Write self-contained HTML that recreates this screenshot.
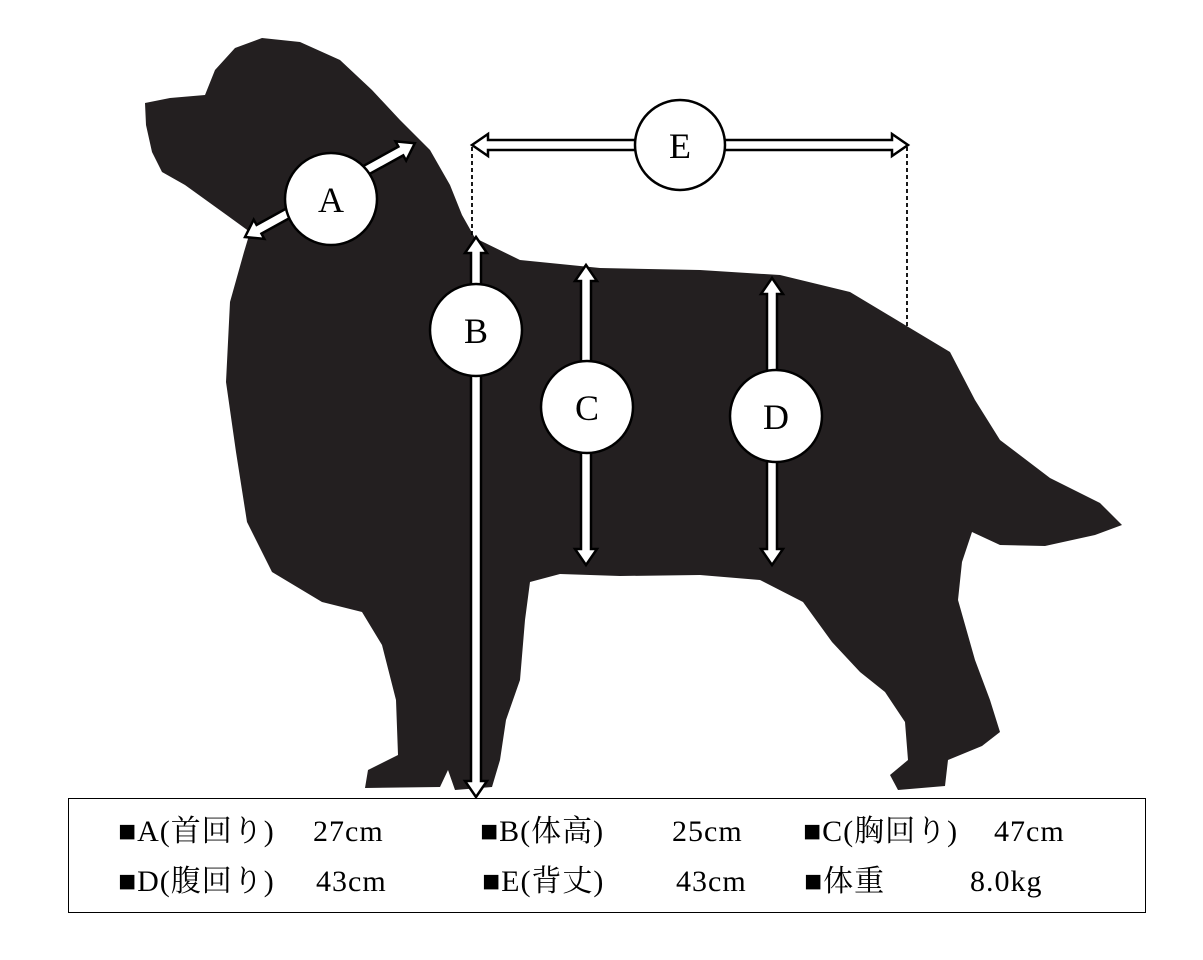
<!DOCTYPE html>
<html><head><meta charset="utf-8"><style>
body{margin:0;width:1203px;height:960px;background:#fff;position:relative;overflow:hidden;font-family:"Liberation Serif","Noto Serif CJK SC",serif;}
.t{position:absolute;font-size:30px;line-height:30px;color:#000;white-space:nowrap;letter-spacing:1px;}
.box{position:absolute;left:68px;top:798px;width:1076px;height:113px;border:1.5px solid #000;}
</style></head><body>
<svg width="1203" height="960" style="position:absolute;left:0;top:0">
<path fill="#231f20" d="M145,103 L170,98 L205,95 L215,70 L235,48 L262,38 L300,42 L340,60 L372,90 L400,120 L430,150 L450,185 L462,215 L475,238 L520,260 L600,268 L700,270 L780,275 L850,292 L905,325 L950,352 L975,400 L1000,440 L1050,478 L1100,503 L1122,525 L1095,535 L1045,546 L1000,545 L972,532 L962,562 L958,600 L975,660 L990,700 L1000,732 L982,746 L948,760 L945,786 L898,790 L890,775 L908,760 L905,722 L885,692 L860,672 L832,642 L803,602 L760,580 L700,575 L620,576 L560,574 L530,582 L525,620 L520,680 L506,720 L500,760 L492,787 L455,790 L448,770 L440,787 L365,788 L368,770 L398,755 L396,700 L382,645 L362,612 L322,602 L272,572 L247,522 L236,452 L226,382 L230,302 L244,252 L250,232 L228,216 L185,185 L162,172 L152,152 L146,125 Z"/>
<g stroke="#000" stroke-width="1.8" stroke-dasharray="4,3"><line x1="472" y1="147" x2="472" y2="236"/><line x1="907" y1="147" x2="907" y2="328"/></g>
<g fill="#fff" stroke="#000" stroke-width="2.5" stroke-linejoin="miter">
<polygon transform="translate(472,145)" points="0,0 16,-11 16,-5 420,-5 420,-11 436,0 420,11 420,5 16,5 16,11"/>
<polygon transform="translate(476,237) rotate(90)" points="0,0 16,-11 16,-5 544,-5 544,-11 560,0 544,11 544,5 16,5 16,11"/>
<polygon transform="translate(586,265) rotate(90)" points="0,0 16,-11 16,-5 284,-5 284,-11 300,0 284,11 284,5 16,5 16,11"/>
<polygon transform="translate(772,278) rotate(90)" points="0,0 16,-11 16,-5 271,-5 271,-11 287,0 271,11 271,5 16,5 16,11"/>
<polygon transform="translate(245,237) rotate(-28.9)" points="0,0 16,-11 16,-5 178,-5 178,-11 194,0 178,11 178,5 16,5 16,11"/>
<circle cx="680" cy="145" r="45"/><circle cx="476" cy="330" r="46"/><circle cx="587" cy="407" r="46"/><circle cx="776" cy="416" r="46"/><circle cx="331" cy="199" r="46"/>
</g>
<g font-family="Liberation Serif, serif" font-size="36" text-anchor="middle" fill="#000">
<text x="680" y="158">E</text><text x="476" y="343">B</text><text x="587" y="420">C</text><text x="776" y="429">D</text><text x="331" y="212">A</text>
</g>
</svg>
<div class="box"></div>
<div class="t" style="left:118px;top:817px">■A(首回り)</div><div class="t" style="left:313px;top:817px">27cm</div>
<div class="t" style="left:480px;top:817px">■B(体高)</div><div class="t" style="left:672px;top:817px">25cm</div>
<div class="t" style="left:803px;top:817px">■C(胸回り)</div><div class="t" style="left:994px;top:817px">47cm</div>
<div class="t" style="left:118px;top:867px">■D(腹回り)</div><div class="t" style="left:316px;top:867px">43cm</div>
<div class="t" style="left:482px;top:867px">■E(背丈)</div><div class="t" style="left:676px;top:867px">43cm</div>
<div class="t" style="left:804px;top:867px">■体重</div><div class="t" style="left:970px;top:867px">8.0kg</div>
</body></html>
